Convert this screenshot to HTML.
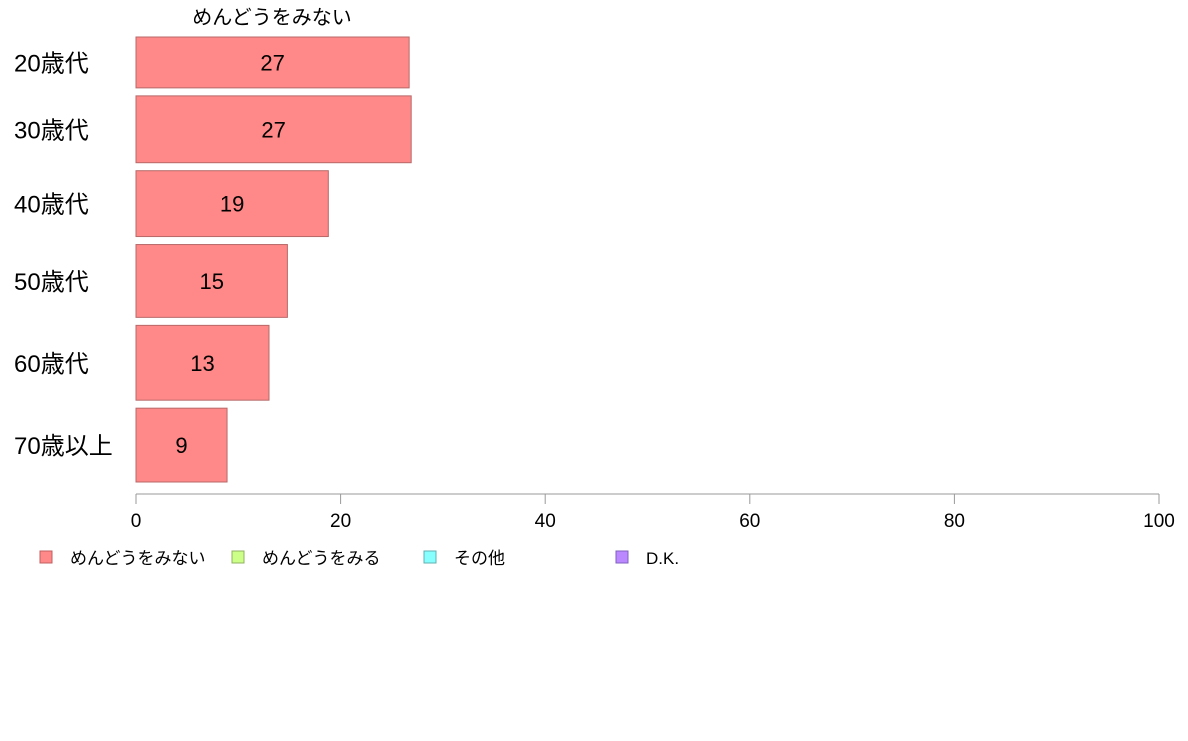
<!DOCTYPE html>
<html><head><meta charset="utf-8"><style>
body{margin:0;background:#fff;}
svg text{font-family:"Liberation Sans","Noto Sans CJK JP",sans-serif;}
</style></head><body>
<svg id="chart" width="1188" height="736" xmlns="http://www.w3.org/2000/svg">
<text x="272" y="24" font-size="20" text-anchor="middle" fill="#000">めんどうをみない</text>
<g id="bars"></g>
<g id="axis"></g>
<g id="legend"></g>
</svg>
<script>
const categories=["20歳代","30歳代","40歳代","50歳代","60歳代","70歳以上"];
const values=[26.7,26.9,18.8,14.8,13.0,8.9];
const sampleSizes=[51,67,66,73,75,74];
const ticks=[0,20,40,60,80,100];
const legendLabels=["めんどうをみない","めんどうをみる","その他","D.K."];
const legendColors=["#ff8888","#ccff88","#88ffff","#bb88ff"];
const legendStroke=["#c06060","#90b060","#60b0b0","#8060c0"];

const NS="http://www.w3.org/2000/svg";
const x0=136,x1=1159,yTop=37,yBot=482,gap=8;
const xs=v=>x0+(v-0)/(100-0)*(x1-x0);
function mk(t,a,p){const e=document.createElementNS(NS,t);for(const k in a)e.setAttribute(k,a[k]);p.appendChild(e);return e;}
const bars=document.getElementById('bars');
const totalN=sampleSizes.reduce((a,b)=>a+b,0);
const avail=(yBot-yTop)-gap*(categories.length-1);
let y=yTop;
categories.forEach((c,i)=>{
  const h=sampleSizes[i]/totalN*avail;
  const r=mk('rect',{x:x0,y:y,width:xs(values[i])-x0,height:h,fill:'#ff8888',stroke:'#b86868','stroke-width':1},bars);
  
  
  const t=mk('text',{x:(x0+xs(values[i]))/2,y:y+h/2+8,'font-size':22,'text-anchor':'middle',fill:'#000'},bars);
  t.textContent=Math.round(values[i]);
  
  
  const l=mk('text',{x:14,y:y+h/2+9,'font-size':24,fill:'#000'},bars);
  l.textContent=c;
  
  
  y+=h+gap;
});
const ax=document.getElementById('axis');
mk('line',{x1:x0,y1:494,x2:x1,y2:494,stroke:'#999'},ax);
ticks.forEach(v=>{
  mk('line',{x1:xs(v),y1:494,x2:xs(v),y2:504,stroke:'#999'},ax);
  const t=mk('text',{x:xs(v),y:527,'font-size':19,'text-anchor':'middle',fill:'#000'},ax);
  t.textContent=v;
  
  
});
const lg=document.getElementById('legend');
legendLabels.forEach((s,i)=>{
  const bx=40+i*192;
  const r=mk('rect',{x:bx,y:551,width:12,height:12,fill:legendColors[i],stroke:legendStroke[i]},lg);
  
  
  const t=mk('text',{x:bx+30,y:564,'font-size':17,fill:'#000'},lg);
  t.textContent=s;
  
  
});
</script>
</body></html>
